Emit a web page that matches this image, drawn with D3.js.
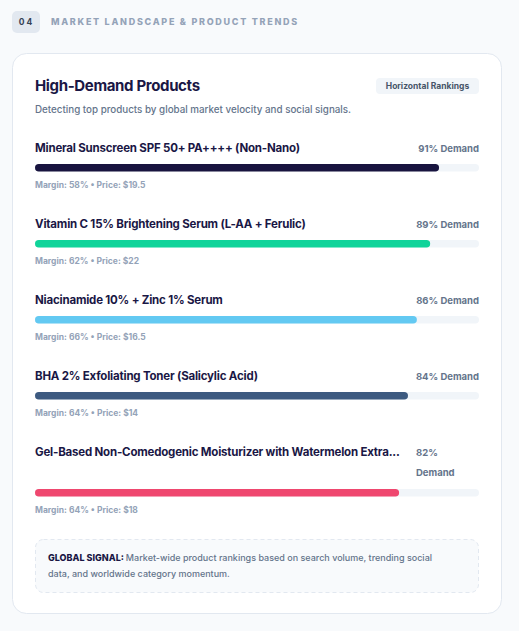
<!DOCTYPE html>
<html><head><meta charset="utf-8">
<script src="https://cdn.jsdelivr.net/npm/d3@7"></script>
<style>
html,body{margin:0;padding:0;background:#f8fafc;}
svg{display:block;font-family:Inter,"Noto Sans",sans-serif;}
</style></head>
<body>
<script>
// ---- data ----
const products = [
  "Mineral Sunscreen SPF 50+ PA++++ (Non-Nano)",
  "Vitamin C 15% Brightening Serum (L-AA + Ferulic)",
  "Niacinamide 10% + Zinc 1% Serum",
  "BHA 2% Exfoliating Toner (Salicylic Acid)",
  "Gel-Based Non-Comedogenic Moisturizer with Watermelon Extract"
];
const demand = [91, 89, 86, 84, 82];
const margin = [58, 62, 66, 64, 64];
const price = [19.5, 22, 16.5, 14, 18];
const colors = ["#18143f", "#10d49a", "#63c9f2", "#3d5a80", "#ef476f"];

const W = 519, H = 631;
const svg = d3.select("body").append("svg").attr("width", W).attr("height", H);

// section header
svg.append("rect").attr("x",12).attr("y",11).attr("width",28).attr("height",22).attr("rx",5).attr("fill","#e2e8f0");
svg.append("text").attr("x",26.5).attr("y",25).attr("text-anchor","middle").attr("font-size",8.5).attr("font-weight",700)
  .attr("letter-spacing",2).attr("fill","#334155").text("04");
svg.append("text").attr("x",51).attr("y",25).attr("font-size",9).attr("font-weight",800).attr("letter-spacing",1.72)
  .attr("fill","#94a3b8").text("MARKET LANDSCAPE & PRODUCT TRENDS");

// card
svg.append("rect").attr("x",12.5).attr("y",53.5).attr("width",489).attr("height",560).attr("rx",14)
  .attr("fill","#fff").attr("stroke","#e2e8f0");

svg.append("text").attr("x",35).attr("y",91).attr("font-size",15).attr("font-weight",700).attr("fill","#1a1745")
  .attr("letter-spacing",-0.35).text("High-Demand Products");
svg.append("text").attr("x",35).attr("y",112.5).attr("font-size",9.8).attr("font-weight",500).attr("fill","#64748b")
  .text("Detecting top products by global market velocity and social signals.");

// pill
const pillT = svg.append("text").attr("x",427.5).attr("y",89).attr("text-anchor","middle").attr("font-size",8.5)
  .attr("font-weight",700).attr("fill","#475569").text("Horizontal Rankings");
svg.insert("rect", () => pillT.node()).attr("x",376).attr("y",78).attr("width",103).attr("height",16).attr("rx",4).attr("fill","#f1f5f9");

// scales
const x = d3.scaleLinear().domain([0,100]).range([35,479]);
const rowY = d3.scalePoint().domain(d3.range(products.length)).range([148, 452]);

const rows = svg.selectAll("g.row").data(products).join("g").attr("class","row");

rows.each(function(name, i){
  const g = d3.select(this);
  const y0 = rowY(i);
  const nameT = g.append("text").attr("x",35).attr("y",y0+4).attr("font-size",11.5).attr("font-weight",700)
    .attr("fill","#1a1745").attr("letter-spacing",-0.2).text(name);
  const inlineW = 355, clipW = 369;
  let truncated = false;
  if (nameT.node().getComputedTextLength() > inlineW) {
    truncated = true;
    let s = name;
    while (s.length > 0 && nameT.text(s + "...").node().getComputedTextLength() > clipW) s = s.slice(0,-1);
    nameT.text(s.trimEnd() + "...");
  }
  let barY = y0 + 16;
  if (truncated) {
    g.append("text").attr("x",416).attr("y",y0+4).attr("font-size",9.5).attr("font-weight",700).attr("fill","#64748b").text(demand[i] + "%");
    g.append("text").attr("x",416).attr("y",y0+24).attr("font-size",9.5).attr("font-weight",700).attr("fill","#64748b").text("Demand");
    barY = y0 + 37;
  } else {
    g.append("text").attr("x",479).attr("y",y0+4).attr("text-anchor","end").attr("font-size",9.5).attr("font-weight",700)
      .attr("fill","#64748b").text(demand[i] + "% Demand");
  }
  g.append("rect").attr("x",x(0)).attr("y",barY).attr("width",x(100)-x(0)).attr("height",7.5).attr("rx",3.75).attr("fill","#f1f5f9");
  g.append("rect").attr("x",x(0)).attr("y",barY).attr("width",x(demand[i])-x(0)).attr("height",7.5).attr("rx",3.75).attr("fill",colors[i]);
  g.append("text").attr("x",35).attr("y",barY+24).attr("font-size",8.5).attr("font-weight",700).attr("fill","#94a3b8")
    .text("Margin: " + margin[i] + "% \u2022 Price: $" + price[i]);
});

// footer note
svg.append("rect").attr("x",35.5).attr("y",539.5).attr("width",443).attr("height",53).attr("rx",8)
  .attr("fill","#f8fafc").attr("stroke","#e2e8f0").attr("stroke-dasharray","4,3");
const ft = svg.append("text").attr("x",48).attr("y",561).attr("font-size",9).attr("font-weight",500).attr("fill","#64748b");
ft.append("tspan").attr("font-weight",800).attr("fill","#1a1745").text("GLOBAL SIGNAL: ");
ft.append("tspan").text("Market-wide product rankings based on search volume, trending social");
svg.append("text").attr("x",48).attr("y",577).attr("font-size",9).attr("font-weight",500).attr("fill","#64748b")
  .text("data, and worldwide category momentum.");
</script>
</body></html>
